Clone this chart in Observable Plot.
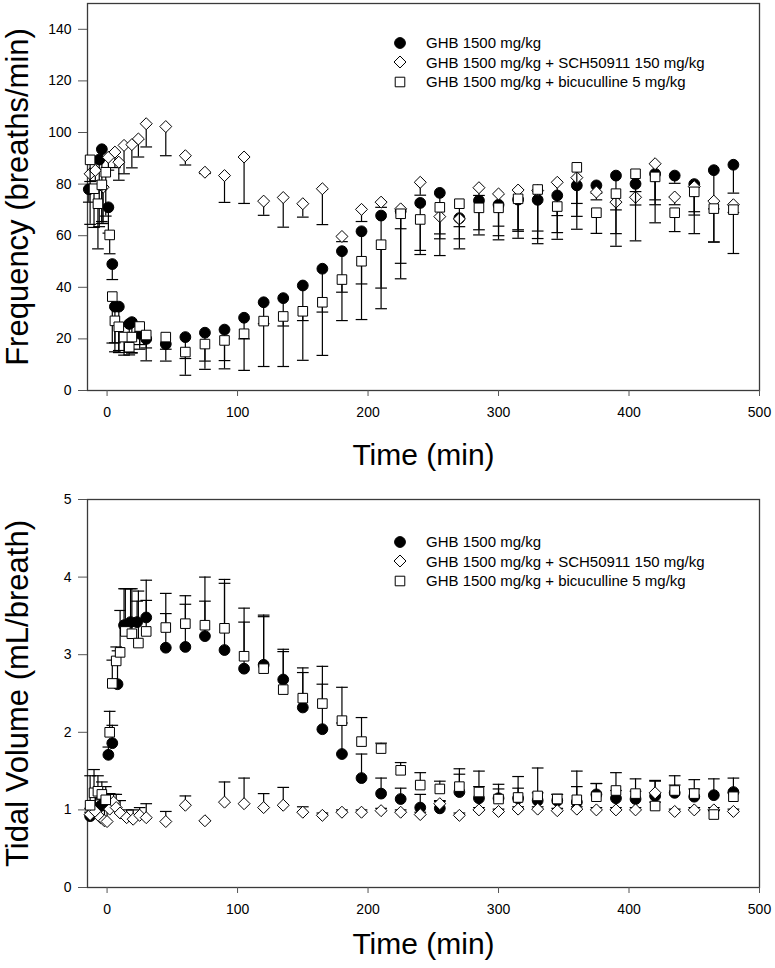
<!DOCTYPE html>
<html><head><meta charset="utf-8">
<script src="https://cdn.jsdelivr.net/npm/d3@7"></script>
<script src="https://cdn.jsdelivr.net/npm/@observablehq/plot@0.6"></script>
<style>
html,body{margin:0;padding:0;background:#fff;}
#wrap{position:relative;width:775px;height:968px;font-family:"Liberation Sans",Arial,sans-serif;}
#wrap svg{display:block;}
.legend{position:absolute;left:392px;font-size:15px;color:#000;}
.legend div{height:19.5px;line-height:19.5px;white-space:nowrap;display:flex;align-items:center;}
.legend svg{width:16px;height:16px;margin-right:18px;}
</style></head>
<body><div id="wrap"></div>
<script>
// ---- shared late time points (min) ----
const lateTimes = [45,60,75,90,105,120,135,150,165,180,195,210,225,240,255,270,285,300,315,330,345,360,375,390,405,420,435,450,465,480];

// ---- series names ----
const seriesNames = ["GHB 1500 mg/kg", "GHB 1500 mg/kg + SCH50911 150 mg/kg", "GHB 1500 mg/kg + bicuculline 5 mg/kg"];

// ---- Frequency (breaths/min): mean and SD (SD drawn downward) ----
const fTimeGHB = [-14,-6,-4,1,4,6,9,17,19,25,30];
const fGHB = [78,89.5,93.5,71,49,32.5,32.5,25.8,26.5,22,20,
  18,20.7,22.4,23.6,28.2,34.2,35.8,40.7,47.2,54,61.7,67.8,69.5,72.7,76.6,66.8,73.6,72,74,73.9,75.6,79.5,79.5,83.3,80.1,84,83.3,80,85.4,87.5];
const fGHBsd = [5,26,28,10,6,14,17,11,12,6,8.5,
  6.6,8.3,11,12,20.4,24.9,26.5,29,33.6,15.9,20.4,28.1,26.2,20,24.3,11.9,11.3,12,12.3,15,14.4,17,3,27.4,3,12,3,12,27.8,11];

const fTimeSCH = [-13,-9,-3,1,6,9,13,19,24,30];
const fSCH = [84,85.3,78.8,90.4,92.4,88.5,95,95.3,97.5,103.4,
  102.3,91,84.6,83.3,90.5,73.4,74.8,72.4,78.2,59.7,70.2,73,70.4,80.7,67.4,66.5,78.6,76.2,77.7,77.5,80.7,82.5,76.9,73,74.9,87.9,75,79,73.4,72];
const fSCHsd = [3,4,14,5,6,7,11,9,7,9,
  11.3,3.6,0.5,10.4,18,5.5,11.5,5.2,13.9,2,4.7,2,7.7,5,6.7,3,3,12.5,15.4,15.7,12.9,15,3,3,3,14,3,9.7,3,3];

const fTimeBIC = [-13,-10,-7,-4,-1,2,4,6,9,13,17,19,25,30];
const fBIC = [89.4,78.2,72.4,79.7,84.6,60.3,36.4,27,24.7,20.7,16.8,20.7,24.8,21.5,
  20.7,14.9,18,19.4,22,26.9,28.7,30.7,34.2,43,50.1,56.5,68.5,66.3,71,72.4,70.8,70.8,74.3,77.9,71.3,86.5,68.9,76.3,84,82.8,68.9,77,70.5,70.1];
const fBICsd = [25,15,17.5,15,17,7.3,18,12,10,7,3,6,7,5,
  4.7,9,9.8,11,2,1,3.7,3.6,3.8,15.9,22.6,24.8,19.2,12,12.2,13.6,10.5,12.4,15.3,21,12.7,14,8,15.5,26,17.8,7.3,16.2,13,17];

// ---- Tidal volume (mL/breath): mean and SD (SD drawn upward) ----
const vTimeGHB = [-13,-5,-2,1,4,8,13,18,23,30];
const vGHB = [0.92,1.05,1.1,1.71,1.86,2.62,3.38,3.42,3.42,3.48,
  3.09,3.1,3.24,3.06,2.82,2.87,2.68,2.32,2.04,1.72,1.41,1.21,1.14,1.03,1.02,1.23,1.15,1.15,1.15,1.12,1.12,1.1,1.2,1.15,1.14,1.18,1.22,1.17,1.19,1.23];
const vGHBsd = [0.05,0.08,0.1,0.1,0.23,0.43,0.47,0.43,0.27,0.48,
  0.44,0.55,0.45,0.86,0.6,0.62,0.36,0.45,0.58,0.4,0.31,0.2,0.14,0.17,0.1,0.23,0.15,0.12,0.13,0.1,0.08,0.2,0.14,0.1,0.1,0.2,0.1,0.1,0.21,0.18];

const vTimeSCH = [-13,-9,-5,-2,0,2,5,7,10,15,20,25,30];
const vSCH = [0.94,0.98,0.9,0.86,0.85,1.01,1.1,1.03,0.96,0.9,0.88,0.93,0.9,
  0.85,1.06,0.86,1.1,1.08,1.03,1.06,0.97,0.93,0.97,0.97,0.99,0.97,0.94,1.08,0.93,1.0,0.98,1.01,1.01,0.99,1.01,1.0,1.0,1.0,1.22,0.98,1.0,1.0,0.98];
const vSCHsd = [0.08,0.2,0.25,0.3,0.2,0.2,0.1,0.17,0.16,0.1,0.12,0.1,0.18,
  0.13,0.12,0,0.26,0.33,0.18,0.23,0.07,0.03,0.03,0.03,0.03,0.03,0.03,0.03,0.03,0.03,0.03,0.03,0.03,0.03,0.03,0.03,0.03,0.03,0.15,0.03,0.03,0.03,0.03];

const vTimeBIC = [-13,-10,-7,-4,-1,2,4,7,10,14,19,24,30];
const vBIC = [1.06,1.22,1.24,1.2,1.13,2.0,2.63,2.92,3.03,3.3,3.27,3.15,3.3,
  3.35,3.4,3.38,3.34,2.98,2.82,2.55,2.44,2.37,2.15,1.88,1.79,1.51,1.32,1.27,1.3,1.23,1.14,1.16,1.18,1.14,1.13,1.17,1.25,1.21,1.05,1.25,1.21,0.94,1.17];
const vBICsd = [0.38,0.3,0.2,0.16,0.17,0.27,0.3,0.18,0.54,0.55,0.58,0.67,0.4,
  0.44,0.36,0.62,0.63,0.62,0.69,0.52,0.39,0.48,0.43,0.31,0.07,0.1,0.16,0.1,0.23,0.27,0.19,0.27,0.36,0.06,0.37,0.17,0.23,0.19,0.05,0.19,0.18,0.05,0.05];

// ---- axis ticks ----
const xTicks = [0,100,200,300,400,500];
const fTicks = [0,20,40,60,80,100,120,140];
const vTicks = [0,1,2,3,4,5];

(function () {
const FONT = "Liberation Sans, Arial, sans-serif";
const capSymbol = {draw(ctx, size){ const w = Math.sqrt(size) / 2; ctx.moveTo(-w, 0); ctx.lineTo(w, 0); }};
const symbols = [
  {symbol: "circle", fill: "black", r: 5.4, d3sym: d3.symbolCircle},
  {symbol: "diamond2", fill: "white", r: 5.4, d3sym: d3.symbolDiamond2},
  {symbol: "square", fill: "white", r: 5.4, d3sym: d3.symbolSquare}
];

function rows(times, vals, sds, dir) {
  return times.map((t, i) => ({t, v: vals[i], e: vals[i] + dir * sds[i]}));
}

function seriesMarks(data, s) {
  return [
    Plot.ruleX(data, {x: "t", y1: "v", y2: "e", stroke: "black", strokeWidth: 1.2}),
    Plot.dot(data, {x: "t", y: "e", symbol: capSymbol, r: 6.6, stroke: "black", strokeWidth: 1.2, fill: "none"}),
    Plot.dot(data, {x: "t", y: "v", symbol: s.symbol, r: s.r, fill: s.fill, stroke: "black", strokeWidth: 1})
  ];
}

function panel({height, marginTop, marginBottom, yDomain, yTicks, yLabel, series, xTitleDy}) {
  return Plot.plot({
    width: 775, height, marginTop, marginBottom, marginLeft: 87, marginRight: 16,
    x: {domain: [-15, 500]},
    y: {domain: yDomain},
    style: {fontFamily: FONT, fontSize: "14px", background: "white", overflow: "visible", color: "black"},
    marks: [
      Plot.frame({stroke: "#3a3a3a", strokeWidth: 1.3}),
      Plot.axisX({ticks: xTicks, tickSize: 6, tickPadding: 11, tickFormat: d3.format("d"), label: null, stroke: "#555", fontSize: 14}),
      Plot.axisY({ticks: yTicks, tickSize: 9, tickPadding: 7, tickFormat: d3.format("d"), label: null, stroke: "#555", fontSize: 14}),
      ...series.flatMap((d, i) => seriesMarks(d, symbols[i])),
      Plot.text(["Time (min)"], {text: d => d, frameAnchor: "bottom", lineAnchor: "middle", textAnchor: "middle", dy: xTitleDy, fontSize: 30, fill: "black"}),
      Plot.text([yLabel], {text: d => d, frameAnchor: "left", lineAnchor: "middle", textAnchor: "middle", dx: -69, rotate: -90, fontSize: 31, fill: "black"})
    ]
  });
}

const wrap = document.getElementById("wrap");

const topPlot = panel({
  height: 480, marginTop: 3, marginBottom: 90,
  yDomain: [0, 150], yTicks: fTicks, yLabel: "Frequency (breaths/min)", xTitleDy: 65,
  series: [
    rows(fTimeGHB.concat(lateTimes), fGHB, fGHBsd, -1),
    rows(fTimeSCH.concat(lateTimes), fSCH, fSCHsd, -1),
    rows(fTimeBIC.concat(lateTimes), fBIC, fBICsd, -1)
  ]
});
const bottomPlot = panel({
  height: 488, marginTop: 19, marginBottom: 81,
  yDomain: [0, 5], yTicks: vTicks, yLabel: "Tidal Volume (mL/breath)", xTitleDy: 57,
  series: [
    rows(vTimeGHB.concat(lateTimes), vGHB, vGHBsd, 1),
    rows(vTimeSCH.concat(lateTimes), vSCH, vSCHsd, 1),
    rows(vTimeBIC.concat(lateTimes), vBIC, vBICsd, 1)
  ]
});
wrap.appendChild(topPlot);
wrap.appendChild(bottomPlot);

// ---- legends (inside plot areas) ----
function icon(i) {
  const s = symbols[i];
  const p = d3.symbol(s.d3sym, Math.PI * s.r * s.r)();
  return `<svg viewBox="-8 -8 16 16"><path d="${p}" fill="${s.fill}" stroke="black" stroke-width="1"/></svg>`;
}
function legend(topPx) {
  const el = document.createElement("div");
  el.className = "legend";
  el.style.top = topPx + "px";
  el.innerHTML = seriesNames.map((n, i) => `<div>${icon(i)}<span>${n}</span></div>`).join("");
  wrap.appendChild(el);
}
legend(33);
legend(532);
})();
</script>
</body></html>
